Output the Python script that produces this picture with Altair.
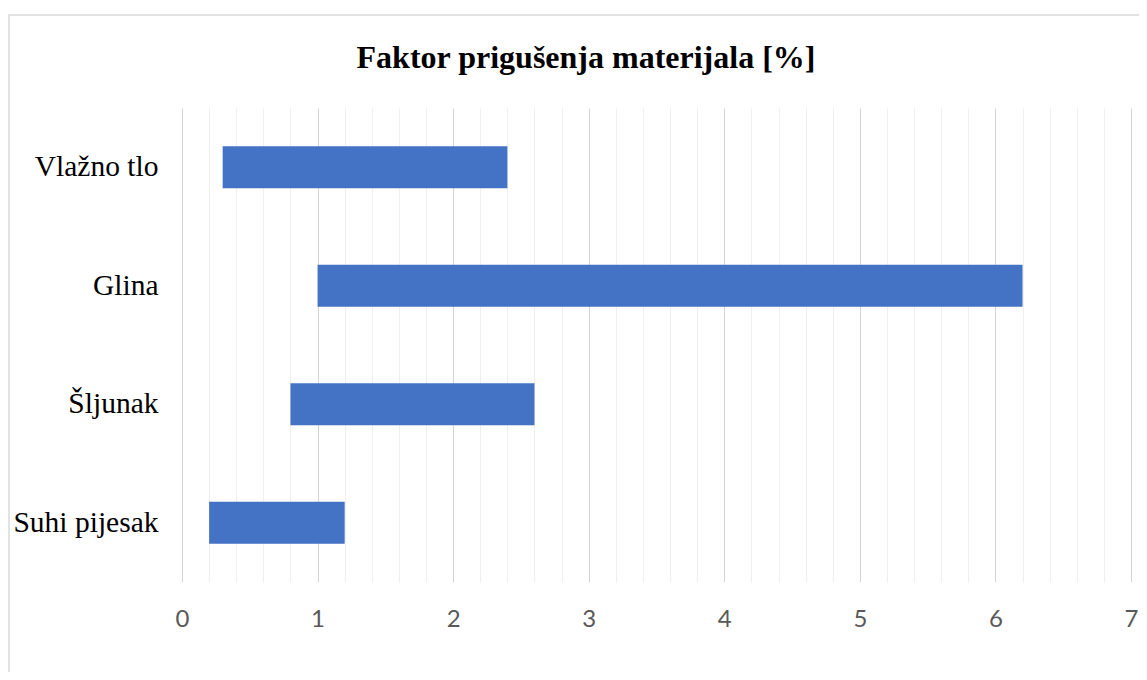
import altair as alt
import pandas as pd

materials = ["Vlažno tlo", "Glina", "Šljunak", "Suhi pijesak"]
start_vals = [0.3, 1.0, 0.8, 0.2]
end_vals = [2.4, 6.2, 2.6, 1.2]
grid_vals = [round(i * 0.2, 1) for i in range(36)]

df = pd.DataFrame({"material": materials, "start": start_vals, "end": end_vals})

border = alt.Chart(alt.Data(values=[{"b": 1}])).mark_rect(
    filled=False, stroke="#d9d9d9", strokeWidth=1.5
).encode(
    x=alt.value(-173), x2=alt.value(981), y=alt.value(-93), y2=alt.value(700)
)

bars = alt.Chart(df).mark_bar(color="#4472C4", size=42).encode(
    y=alt.Y("material:N", sort=materials,
            scale=alt.Scale(paddingInner=0, paddingOuter=0),
            axis=alt.Axis(title=None, labelFont="Liberation Serif", labelFontSize=29.5,
                          labelColor="black", labelPadding=24, ticks=False,
                          domain=False, grid=False)),
    x=alt.X("start:Q", scale=alt.Scale(domain=[0, 7], nice=False, zero=False),
            axis=alt.Axis(title=None, values=grid_vals, tickCount=60, tickMinStep=0.1,
                          labelExpr="abs(datum.value - round(datum.value)) < 0.001 ? format(datum.value, 'd') : ''",
                          labelFont="Lato", labelFontSize=24, labelColor="#595959",
                          labelPadding=25, labelOverlap=False, labelFlush=False,
                          ticks=False, domain=False, grid=True, gridWidth=1,
                          gridColor={"condition": {"test": "abs(datum.value - round(datum.value)) < 0.001",
                                                   "value": "#d4d4d4"},
                                     "value": "#efefef"})),
    x2="end:Q",
)

chart = alt.layer(border, bars).properties(
    width=949,
    height=474,
    background="white",
    title=alt.TitleParams("Faktor prigušenja materijala [%]", font="Liberation Serif",
                          fontSize=32, fontWeight="bold", color="black",
                          frame="bounds", anchor="middle", baseline="alphabetic", offset=-86),
    autosize=alt.AutoSizeParams(type="none"),
    padding={"left": 174, "top": 100, "right": 8, "bottom": 90},
).configure_view(stroke=None, strokeWidth=0)

chart.save("out.html", embed_options={"renderer": "svg", "actions": False})
